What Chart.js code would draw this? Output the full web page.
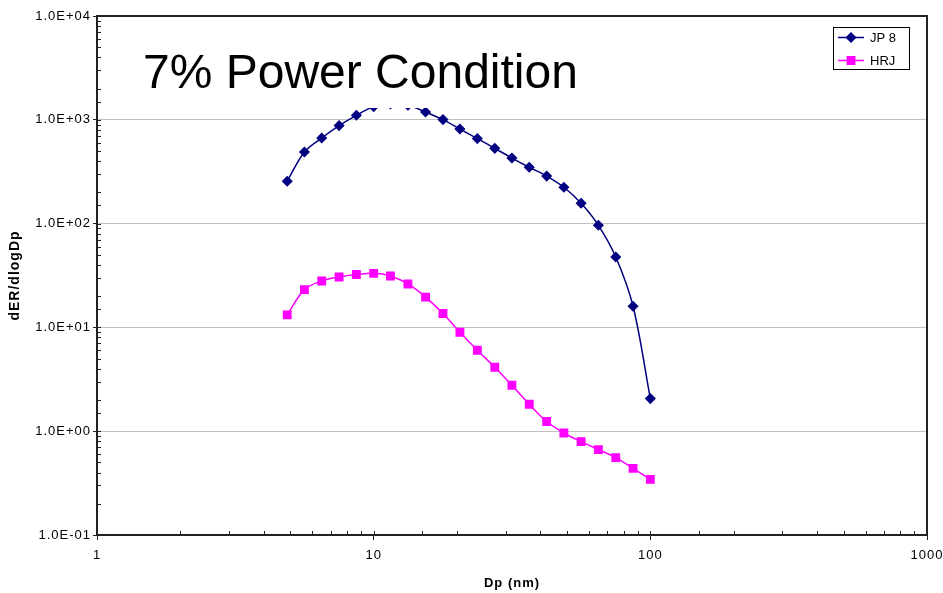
<!DOCTYPE html>
<html>
<head>
<meta charset="utf-8">
<script src="https://cdn.jsdelivr.net/npm/chart.js@4.4.1/dist/chart.umd.min.js"></script>
<style>
  html, body { margin: 0; padding: 0; background: #fff; }
  #wrap { width: 943px; height: 593px; }
</style>
</head>
<body>
<div id="wrap"><canvas id="psd" width="943" height="593"></canvas></div>
<script>
// particle diameter bins (nm)
const sizes = [4.87, 5.62, 6.49, 7.50, 8.66, 10.0, 11.5, 13.3, 15.4, 17.8, 20.5,
  23.7, 27.4, 31.6, 36.5, 42.2, 48.7, 56.2, 64.9, 75.0, 86.6, 100];
// dER/dlogDp
const jp8 = [256, 490, 668, 879, 1105, 1340, 1420, 1380, 1189, 1004, 815,
  659, 531, 428, 349, 287, 224, 157, 96.3, 47.7, 16.0, 2.06];
const hrj = [13.2, 23.1, 28.0, 30.6, 32.3, 33.2, 31.3, 26.2, 19.6, 13.6, 8.97,
  6.02, 4.13, 2.77, 1.82, 1.24, 0.961, 0.794, 0.665, 0.557, 0.439, 0.344];
const seriesNames = ['JP 8', 'HRJ'];
const chartTitle = '7% Power Condition';

const FONT = "'Liberation Sans', Arial, sans-serif";
const isDecade = (v) => Math.abs(Math.log10(v) - Math.round(Math.log10(v))) < 1e-9;
const sciLabel = (v) => {
  const e = Math.round(Math.log10(v));
  return '1.0E' + (e < 0 ? '-' : '+') + String(Math.abs(e)).padStart(2, '0');
};
const toPoints = (ys) => sizes.map((x, i) => ({ x, y: ys[i] }));

// axis texts in the original are a bit wider than Arial
const spacing = {
  id: 'spacing',
  beforeDraw(chart) { chart.ctx.letterSpacing = '1px'; },
  afterDraw(chart) { chart.ctx.letterSpacing = '0px'; },
};

// frame + small inside tick marks (Excel style)
const framePlugin = {
  id: 'frame',
  afterDatasetsDraw(chart) {
    const { ctx, chartArea: a, scales } = chart;
    ctx.save();
    ctx.strokeStyle = '#222';
    ctx.lineWidth = 1;
    scales.x.ticks.forEach((t) => {
      const px = Math.round(scales.x.getPixelForValue(t.value)) + 0.5;
      ctx.beginPath();
      ctx.moveTo(px, a.bottom);
      ctx.lineTo(px, a.bottom - 4);
      ctx.stroke();
    });
    scales.y.ticks.forEach((t) => {
      const py = Math.round(scales.y.getPixelForValue(t.value)) + 0.5;
      ctx.beginPath();
      ctx.moveTo(a.left, py);
      ctx.lineTo(a.left + 4, py);
      ctx.stroke();
    });
    ctx.lineWidth = 2;
    ctx.strokeRect(a.left, a.top, a.right - a.left, a.bottom - a.top);
    ctx.restore();
  }
};

// title text box sits on top of the plot (white fill hides the peak)
const titleBox = {
  id: 'titleBox',
  afterDatasetsDraw(chart) {
    const { ctx } = chart;
    ctx.save();
    ctx.letterSpacing = '0px';
    ctx.fillStyle = '#fff';
    ctx.fillRect(133, 38, 457, 70);
    ctx.fillStyle = '#000';
    ctx.font = '48px ' + FONT;
    ctx.textBaseline = 'alphabetic';
    ctx.textAlign = 'left';
    ctx.fillText(chartTitle, 143, 88);
    ctx.restore();
  }
};

// boxed legend in the upper right corner
const boxLegend = {
  id: 'boxLegend',
  afterDraw(chart) {
    const { ctx } = chart;
    const x0 = 833, y0 = 27, w = 76, h = 42;
    ctx.save();
    ctx.letterSpacing = '0px';
    ctx.fillStyle = '#fff';
    ctx.fillRect(x0, y0, w, h);
    ctx.strokeStyle = '#000';
    ctx.lineWidth = 1;
    ctx.strokeRect(x0 + 0.5, y0 + 0.5, w, h);
    chart.data.datasets.forEach((ds, i) => {
      const y = y0 + 10.5 + i * 23;
      ctx.strokeStyle = ds.borderColor;
      ctx.lineWidth = ds.borderWidth;
      ctx.beginPath();
      ctx.moveTo(x0 + 5, y);
      ctx.lineTo(x0 + 31, y);
      ctx.stroke();
      Chart.helpers.drawPoint(ctx, {
        pointStyle: ds.pointStyle, radius: ds.pointRadius, borderWidth: 1, rotation: 0
      }, x0 + 18, y);
      ctx.fillStyle = ds.pointBackgroundColor;
      ctx.strokeStyle = ds.pointBorderColor;
      ctx.fill();
      ctx.fillStyle = '#000';
      ctx.font = '13px ' + FONT;
      ctx.textBaseline = 'middle';
      ctx.fillText(ds.label, x0 + 37, y + 1);
    });
    ctx.restore();
  }
};

new Chart(document.getElementById('psd'), {
  type: 'line',
  data: {
    datasets: [
      {
        label: seriesNames[0],
        data: toPoints(jp8),
        borderColor: '#000080',
        backgroundColor: '#000080',
        pointBackgroundColor: '#000080',
        pointBorderColor: '#000080',
        borderWidth: 1.5,
        pointStyle: 'rectRot',
        pointRadius: 4.5,
        tension: 0.35,
      },
      {
        label: seriesNames[1],
        data: toPoints(hrj),
        borderColor: '#ff00ff',
        backgroundColor: '#ff00ff',
        pointBackgroundColor: '#ff00ff',
        pointBorderColor: '#ff00ff',
        borderWidth: 1.5,
        pointStyle: 'rect',
        pointRadius: 5.2,
        tension: 0.35,
      },
    ],
  },
  options: {
    responsive: false,
    animation: false,
    layout: { padding: { left: 0, top: 16, right: 16, bottom: 0 } },
    plugins: {
      legend: { display: false },
      tooltip: { enabled: false },
    },
    scales: {
      x: {
        type: 'logarithmic',
        min: 1,
        max: 1000,
        afterFit: (s) => { s.height = 58; s.paddingLeft = 0; s.paddingRight = 0; },
        border: { display: false },
        grid: {
          drawOnChartArea: false,
          tickLength: 5,
          tickColor: (c) => (c.tick && isDecade(c.tick.value) ? '#222' : 'rgba(0,0,0,0)'),
        },
        ticks: {
          autoSkip: false,
          maxRotation: 0,
          padding: 8,
          color: '#000',
          font: { family: FONT, size: 13 },
          callback: (v) => (isDecade(v) ? String(Math.round(v)) : ''),
        },
        title: {
          display: true,
          text: 'Dp (nm)',
          color: '#000',
          font: { family: FONT, size: 13, weight: 'bold' },
          padding: { top: 4, bottom: 2 },
        },
      },
      y: {
        type: 'logarithmic',
        min: 0.1,
        max: 10000,
        afterFit: (s) => { s.width = 97; s.paddingTop = 0; s.paddingBottom = 0; },
        border: { display: false },
        grid: {
          color: (c) => (c.tick && isDecade(c.tick.value) ? '#c0c0c0' : 'rgba(0,0,0,0)'),
          tickColor: (c) => (c.tick && isDecade(c.tick.value) ? '#222' : 'rgba(0,0,0,0)'),
          tickLength: 4,
          lineWidth: 1,
        },
        ticks: {
          autoSkip: false,
          padding: 2,
          color: '#000',
          font: { family: FONT, size: 13 },
          callback: (v) => (isDecade(v) ? sciLabel(v) : ''),
        },
        title: {
          display: true,
          text: 'dER/dlogDp',
          color: '#000',
          font: { family: FONT, size: 14, weight: 'bold' },
          padding: { top: 7, bottom: 4 },
        },
      },
    },
  },
  plugins: [spacing, framePlugin, titleBox, boxLegend],
});
</script>
</body>
</html>
